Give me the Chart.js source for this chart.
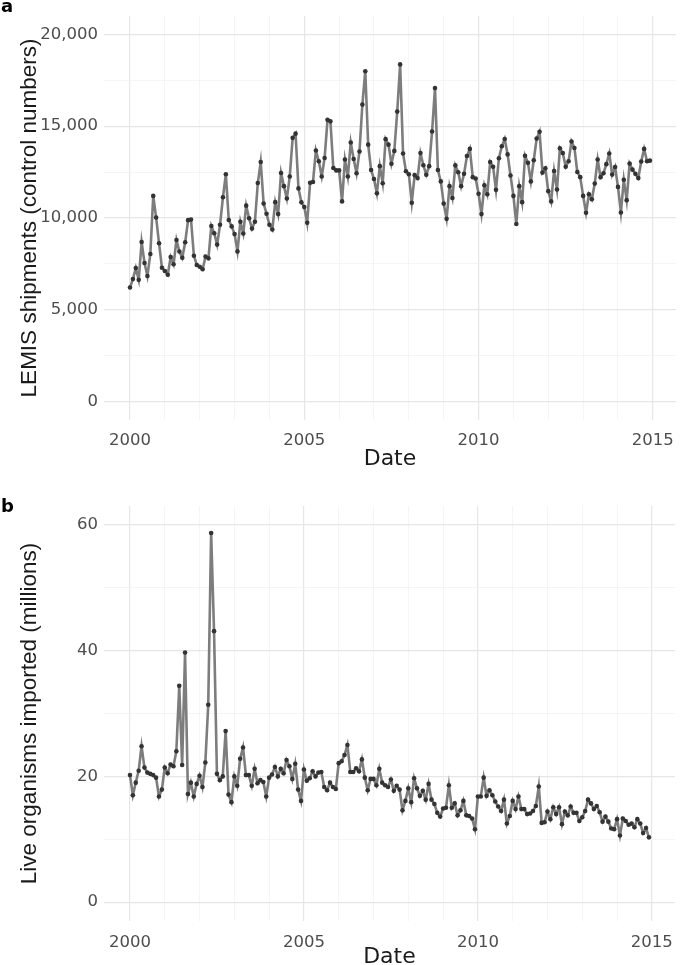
<!DOCTYPE html>
<html>
<head>
<meta charset="utf-8">
<script src="https://cdn.jsdelivr.net/npm/chart.js@4.4.1/dist/chart.umd.min.js"></script>
<style>
  html, body { margin: 0; padding: 0; background: #fff; }
  body { width: 685px; height: 965px; position: relative; overflow: hidden; }
  canvas { position: absolute; left: 0; }
  #chartA { top: 0; }
  #chartB { top: 485px; }
  .tag { position: absolute; left: 1px; font: bold 18px "DejaVu Sans"; line-height: 18px; color: #000; }
</style>
</head>
<body>
<canvas id="chartA" width="685" height="480"></canvas>
<canvas id="chartB" width="685" height="490"></canvas>
<div class="tag" style="top:-3px">a</div>
<div class="tag" style="top:497px">b</div>

<script>
// monthly values, Jan 2000 .. Dec 2014
const startYear = 2000;

// LEMIS shipments (control numbers)
const shipments = [
  6210, 6670, 7270, 6630, 8690, 7550, 6840, 8040, 11200, 10020, 8620, 7290,
  7110, 6910, 7870, 7480, 8800, 8170, 7830, 8680, 9880, 9910, 7940, 7440,
  7340, 7210, 7900, 7800, 9560, 9170, 8550, 9630, 11130, 12380, 9890, 9540,
  9120, 8180, 9790, 9150, 10670, 9980, 9420, 9790, 11900, 13050, 10780, 10230,
  9630, 9370, 10860, 10210, 12450, 11730, 11060, 12260, 14360, 14590, 11610, 10850,
  10600, 9740, 11920, 11960, 13670, 13090, 12260, 13260, 15340, 15260, 12720, 12590,
  12590, 10900, 13180, 12260, 14110, 13210, 12430, 13620, 16170, 17990, 13990, 12610,
  12120, 11340, 12820, 11890, 14290, 13990, 12950, 13650, 15790, 18360, 13510, 12540,
  12380, 10830, 12330, 12170, 13530, 12870, 12350, 12820, 14710, 17070, 12610, 11990,
  10780, 9950, 11730, 11090, 12860, 12490, 11730, 12400, 13370, 13760, 12220, 12150,
  11320, 10210, 11780, 11290, 13050, 12790, 11530, 13250, 13900, 14300, 13460, 12310,
  11200, 9670, 11730, 10860, 13390, 13000, 11990, 13140, 14320, 14690, 12470, 12700,
  11460, 10900, 12560, 11550, 13790, 13530, 12790, 13090, 14160, 13810, 12500, 12220,
  11200, 10280, 11290, 11020, 11870, 13180, 12220, 12430, 12930, 13510, 12360, 12770,
  11690, 10300, 12080, 10970, 12960, 12630, 12400, 12170, 13070, 13760, 13090, 13120
];

// Live organisms imported (millions)
const liveOrganisms = [
  20.2, 17.0, 19.0, 20.9, 24.8, 21.4, 20.6, 20.4, 20.2, 19.8, 16.8, 17.9,
  21.4, 20.5, 21.9, 21.6, 24.0, 34.4, 21.8, 39.7, 17.2, 19.0, 16.8, 18.8,
  20.1, 18.3, 22.2, 31.4, 58.7, 43.1, 20.4, 19.4, 20.0, 27.2, 17.1, 15.9,
  20.0, 18.5, 22.8, 24.6, 20.2, 20.2, 18.5, 21.2, 18.9, 19.4, 19.1, 16.8,
  19.8, 20.3, 21.5, 20.0, 21.2, 20.5, 22.6, 21.6, 19.6, 22.0, 17.9, 16.1,
  21.1, 19.3, 19.7, 20.8, 20.0, 20.6, 20.7, 18.3, 17.8, 19.0, 18.3, 18.0,
  22.1, 22.4, 23.4, 25.0, 20.7, 20.7, 21.3, 20.8, 22.7, 19.8, 17.8, 19.6,
  19.6, 18.6, 21.2, 19.0, 18.6, 18.3, 19.5, 17.7, 18.5, 17.9, 14.6, 16.1,
  18.1, 15.9, 19.7, 18.1, 16.9, 17.7, 16.3, 18.8, 16.3, 15.6, 14.2, 13.6,
  14.9, 15.0, 18.6, 15.0, 15.7, 13.8, 14.6, 16.1, 13.8, 13.7, 13.3, 11.6,
  16.8, 16.8, 19.8, 16.9, 17.8, 17.0, 16.0, 15.2, 14.5, 16.3, 12.5, 13.7,
  16.1, 14.8, 16.8, 14.8, 14.8, 14.0, 14.1, 14.5, 15.3, 18.4, 12.6, 12.7,
  14.4, 13.2, 15.1, 14.0, 15.1, 12.4, 14.4, 13.8, 15.2, 14.2, 14.2, 12.9,
  13.5, 14.5, 16.3, 15.7, 14.8, 15.3, 14.3, 12.8, 13.6, 12.8, 11.7, 11.6,
  13.2, 10.6, 13.3, 12.9, 12.3, 12.5, 11.9, 13.2, 12.5, 11.0, 11.8, 10.3
];

// tick labels and grid breaks
const yearLabels = [2000, 2005, 2010, 2015];
const yearGrid = [2000, 2001, 2002, 2003, 2004, 2005, 2006, 2007, 2008, 2009, 2010, 2011, 2012, 2013, 2014, 2015];
const shipLabels = [0, 5000, 10000, 15000, 20000];
const shipGrid = [0, 2500, 5000, 7500, 10000, 12500, 15000, 17500, 20000];
const liveLabels = [0, 20, 40, 60];
const liveGrid = [0, 10, 20, 30, 40, 50, 60];

const tickFont = { family: "DejaVu Sans", size: 16.5 };
const tickColor = "#4d4d4d";

function toPoints(values) {
  return values.map((v, i) => ({ x: startYear + i / 12, y: v }));
}

function gridStyle(labels) {
  return {
    drawTicks: false,
    color: (ctx) => labels.includes(ctx.tick.value) ? "#e6e6e6" : "#f1f1f1",
    lineWidth: (ctx) => labels.includes(ctx.tick.value) ? 1.2 : 0.7,
  };
}

function makePanel(id, values, yTitle, yMin, yMax, yLabels, yGrid, fmt, pad) {
  return new Chart(document.getElementById(id), {
    type: "line",
    data: {
      datasets: [{
        data: toPoints(values),
        borderColor: "#7d7d7d",
        borderWidth: 2.6,
        tension: 0,
        pointRadius: 2.3,
        pointBackgroundColor: "#333333",
        pointBorderWidth: 0,
      }],
    },
    options: {
      responsive: false,
      animation: false,
      layout: { padding: { top: pad.top, right: 0, left: 0, bottom: 0 } },
      plugins: { legend: { display: false }, tooltip: { enabled: false } },
      scales: {
        x: {
          type: "linear",
          min: 1999.254,
          max: 2015.663,
          afterBuildTicks: (s) => { s.ticks = yearGrid.map((v) => ({ value: v })); },
          afterFit: (s) => { s.height = pad.axis; },
          ticks: {
            autoSkip: false,
            maxRotation: 0,
            padding: pad.tick,
            font: tickFont,
            color: tickColor,
            callback: (v) => yearLabels.includes(v) ? String(v) : "",
          },
          grid: gridStyle(yearLabels),
          border: { display: false },
          title: {
            display: true,
            text: "Date",
            font: { family: "DejaVu Sans", size: 22 },
            color: "#1a1a1a",
            padding: { top: 0, bottom: pad.title },
          },
        },
        y: {
          min: yMin,
          max: yMax,
          afterBuildTicks: (s) => { s.ticks = yGrid.map((v) => ({ value: v })); },
          afterFit: (s) => { s.width = 104; },
          ticks: {
            autoSkip: false,
            padding: 6,
            font: tickFont,
            color: tickColor,
            callback: (v) => yLabels.includes(v) ? fmt(v) : "",
          },
          grid: gridStyle(yLabels),
          border: { display: false },
          title: {
            display: true,
            text: yTitle,
            font: { family: "Liberation Sans", size: 22.5 },
            color: "#1a1a1a",
            padding: { top: 16, bottom: 0 },
          },
        },
      },
    },
  });
}

makePanel("chartA", shipments, "LEMIS shipments (control numbers)", -1000, 21000,
  shipLabels, shipGrid, (v) => v.toLocaleString("en-US"),
  { top: 4, axis: 60, tick: 11, title: 8 });

makePanel("chartB", liveOrganisms, "Live organisms imported (millions)", -3, 63,
  liveLabels, liveGrid, (v) => String(v),
  { top: 21, axis: 54, tick: 12, title: 5 });
</script>
</body>
</html>
